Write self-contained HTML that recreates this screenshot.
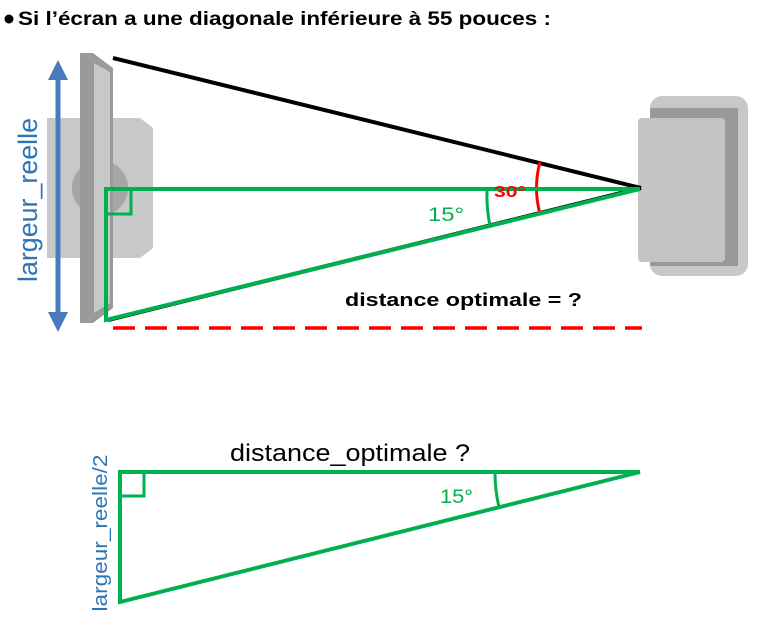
<!DOCTYPE html>
<html><head><meta charset="utf-8"><style>
html,body{margin:0;padding:0;background:#fff;}
svg{display:block;font-family:"Liberation Sans",sans-serif;}
</style></head><body>
<svg width="764" height="635" viewBox="0 0 764 635">
  <g>
    <circle cx="9" cy="19" r="4.5" fill="#000"/>
    <text x="18" y="25" font-size="19" font-weight="bold" fill="#000" textLength="533" lengthAdjust="spacingAndGlyphs">Si l’écran a une diagonale inférieure à 55 pouces :</text>
  </g>
  <g>
    <polygon points="47,118 140,118 153,128 153,248 140,258 47,258" fill="#c8c8c8"/>
    <circle cx="100" cy="188" r="28" fill="#a6a6a6"/>
  </g>
  <g>
    <polygon points="80,53 93,53 113,68 113,308 93,323 80,323" fill="#9a9a9a"/>
    <polygon points="94,63 110,72 110,303 94,313" fill="#c8c8c8"/>
  </g>
  <g>
    <line x1="58" y1="75" x2="58" y2="318" stroke="#4a7bbd" stroke-width="5"/>
    <polygon points="58,60 48,80 68,80" fill="#4a7bbd"/>
    <polygon points="58,332 48,312 68,312" fill="#4a7bbd"/>
  </g>
  <text transform="translate(37,200) rotate(-90)" text-anchor="middle" font-size="27" fill="#2e75b6" textLength="164" lengthAdjust="spacingAndGlyphs">largeur_reelle</text>
  <g>
    <rect x="650" y="96" width="98" height="180" rx="12" fill="#c8c8c8"/>
    <rect x="650" y="108" width="88" height="158" fill="#999"/>
    <rect x="638" y="118" width="87" height="144" rx="4" fill="#c4c4c4"/>
  </g>
  <g>
    <line x1="113" y1="58" x2="641" y2="188" stroke="#000" stroke-width="4"/>
    <line x1="108" y1="320" x2="641" y2="188" stroke="#000" stroke-width="4"/>
  </g>
  <path d="M540,162 A100,100 0 0 0 540,214" fill="none" stroke="#ff0000" stroke-width="3"/>
  <g fill="none" stroke="#00b050" stroke-width="4">
    <polyline points="640,189 106,189 106,320 640,189"/>
    <polyline points="106,214 131,214 131,189" stroke-width="3"/>
    <path d="M487,189 A155,155 0 0 0 490,226" stroke-width="3"/>
  </g>
  <text x="494" y="197" font-size="16" font-weight="bold" fill="#ff0000" textLength="32" lengthAdjust="spacingAndGlyphs">30°</text>
  <text x="428" y="221" font-size="19" fill="#00b050" textLength="36" lengthAdjust="spacingAndGlyphs">15°</text>
  <text x="345" y="306" font-size="18" font-weight="bold" fill="#000" textLength="237" lengthAdjust="spacingAndGlyphs">distance optimale = ?</text>
  <line x1="113" y1="328" x2="642" y2="328" stroke="#ff0000" stroke-width="3.5" stroke-dasharray="22,10"/>
  <text x="230" y="461" font-size="24" fill="#000" textLength="240" lengthAdjust="spacingAndGlyphs">distance_optimale ?</text>
  <g fill="none" stroke="#00b050" stroke-width="4">
    <polyline points="640,472 120,472 120,602 640,472"/>
    <polyline points="120,496 144,496 144,472" stroke-width="3"/>
    <path d="M495,472 A145,145 0 0 0 499,507" stroke-width="3"/>
  </g>
  <text x="440" y="503" font-size="19" fill="#00b050" textLength="33" lengthAdjust="spacingAndGlyphs">15°</text>
  <text transform="translate(107,533) rotate(-90)" text-anchor="middle" font-size="20" fill="#2e75b6" textLength="157" lengthAdjust="spacingAndGlyphs">largeur_reelle/2</text>
</svg>
</body></html>
